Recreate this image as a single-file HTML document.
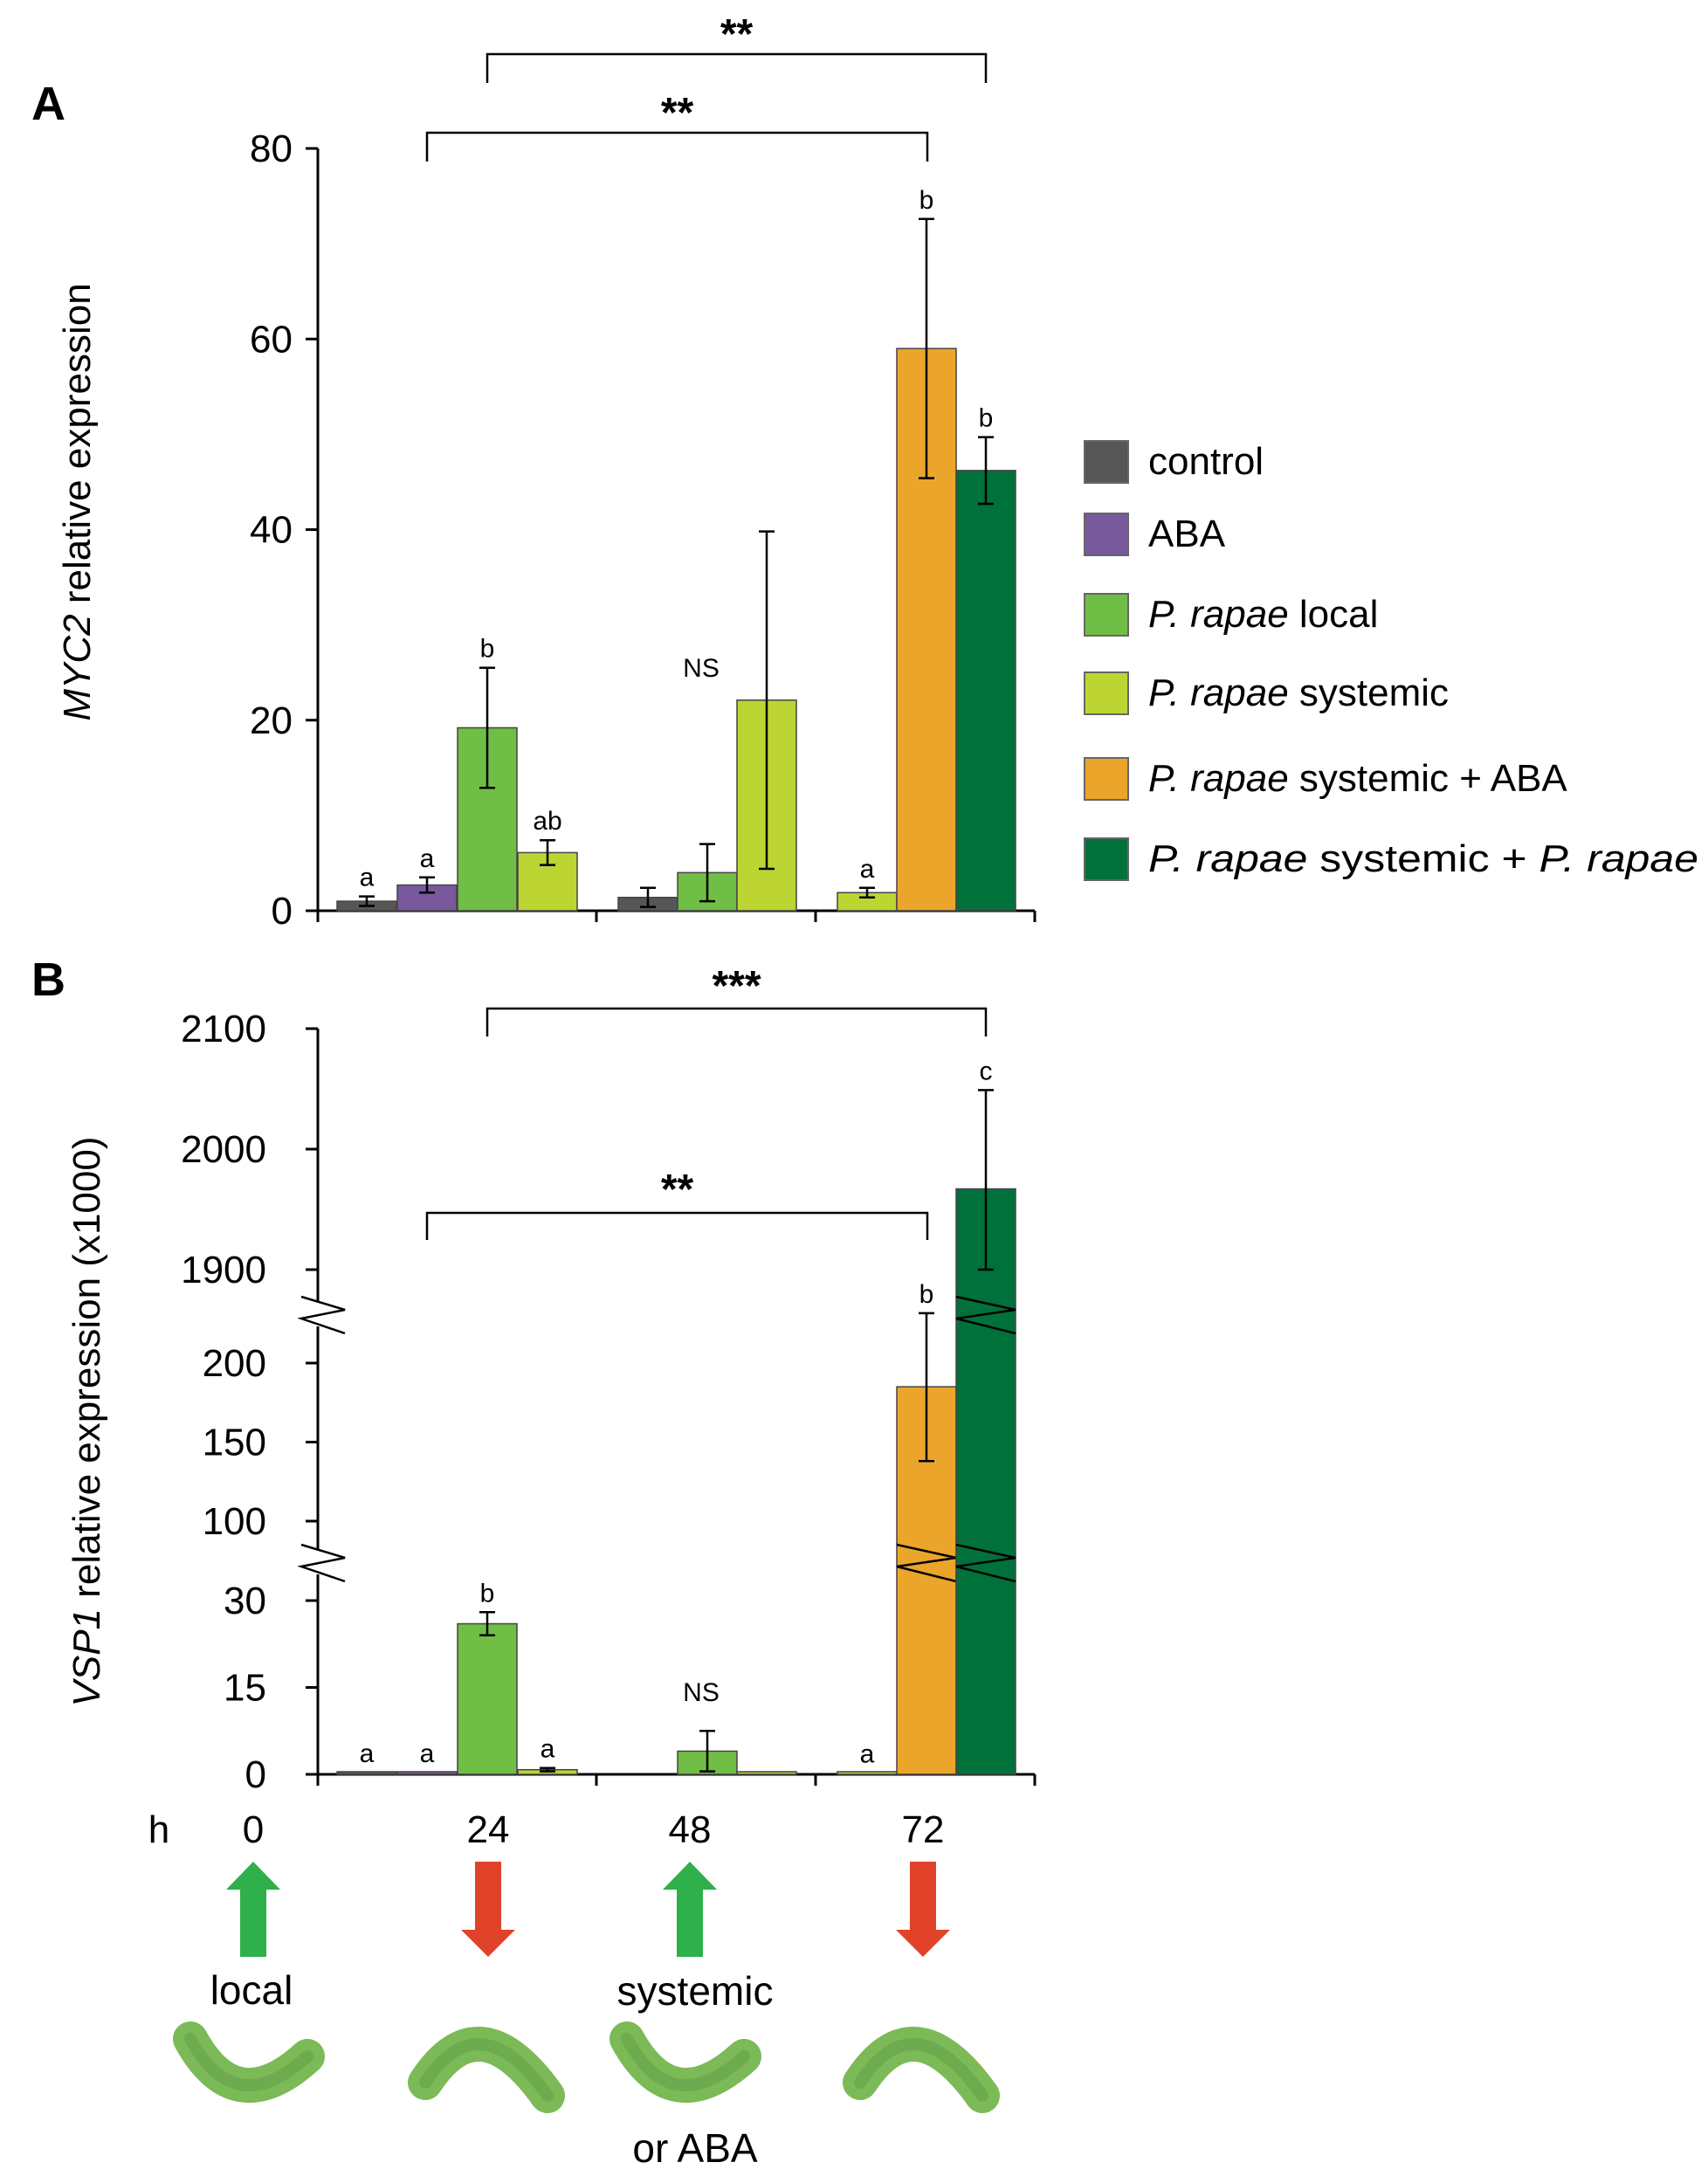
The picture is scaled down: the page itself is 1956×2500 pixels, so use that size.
<!DOCTYPE html>
<html><head><meta charset="utf-8"><style>
html,body{margin:0;padding:0;background:#fff;overflow:hidden;}
svg{display:block;font-family:"Liberation Sans",sans-serif;}
</style></head><body>
<svg id="chart" width="1956" height="2500" viewBox="0 0 1956 2500">
<g id="A"></g>
<g id="B"></g>
<g id="bottom"></g>
</svg>
<script>
const NS="http://www.w3.org/2000/svg";
const series=["control","ABA","P. rapae local","P. rapae systemic","P. rapae systemic + ABA","P. rapae systemic + P. rapae"];
const colors=["#565656","#78599b","#70be45","#bdd532","#eca52b","#00713a"];
const aSeries=[0,1,2,3,0,2,3,3,4,5];
const aValues=[1.0,2.7,19.2,6.1,1.4,4.0,22.1,1.9,59.0,46.2];
const aErrors=[0.5,0.8,6.3,1.3,1.0,3.0,17.7,0.5,13.6,3.5];
const aLetters=["a","a","b","ab","","","","a","b","b"];
const aTicks=[0,20,40,60,80];
const bValues=[0.3,0.3,26,0.8,4.0,0.2,0.2,185,1967];
const bErrors=[0,0,2,0.3,3.5,0,0,47,82];
const bSeries=[0,1,2,3,2,3,3,4,5];
const bLetters=["a","a","b","a","","","a","b","c"];
const bTicks=[0,15,30,100,150,200,1900,2000,2100];
const slotX=[386,455,524,593,708,776,844,959,1027,1095];
const bSlot=[0,1,2,3,5,6,7,8,9];
const BW=68;
function el(p,tag,attrs,text){const e=document.createElementNS(NS,tag);for(const k in attrs)e.setAttribute(k,attrs[k]);if(text!==undefined)e.textContent=text;p.appendChild(e);return e;}
const A=document.getElementById('A'),B=document.getElementById('B'),BT=document.getElementById('bottom');
const yA=v=>1043-v*(1043-170)/80;
el(A,'text',{x:36,y:137,'font-size':54,'font-weight':'bold'},'A');
el(A,'line',{x1:364,y1:170,x2:364,y2:1043,stroke:'#000','stroke-width':3});
el(A,'line',{x1:364,y1:1043,x2:1185,y2:1043,stroke:'#000','stroke-width':3});
[364,683,934,1185].forEach(x=>el(A,'line',{x1:x,y1:1043,x2:x,y2:1056,stroke:'#000','stroke-width':3}));
aTicks.forEach(t=>{el(A,'line',{x1:350,y1:yA(t),x2:364,y2:yA(t),stroke:'#000','stroke-width':3});
 const tx=el(A,'text',{x:335,y:yA(t)+15,'font-size':44,'text-anchor':'end'},t);
 
 });
const ta=el(A,'text',{transform:'translate(103,575) rotate(-90)','font-size':44,'text-anchor':'middle'});

el(ta,'tspan',{'font-style':'italic'},'MYC2');el(ta,'tspan',{},' relative expression');
aValues.forEach((v,i)=>{const x=slotX[i],c=colors[aSeries[i]];
 const r=el(A,'rect',{x:x,y:yA(v),width:BW,height:yA(0)-yA(v),fill:c,stroke:'#444','stroke-width':1.5});
 
 
 const cx=x+BW/2,e=aErrors[i];
 el(A,'line',{x1:cx,y1:yA(v+e),x2:cx,y2:yA(v-e),stroke:'#000','stroke-width':2.5});
 el(A,'line',{x1:cx-9,y1:yA(v+e),x2:cx+9,y2:yA(v+e),stroke:'#000','stroke-width':2.5});
 el(A,'line',{x1:cx-9,y1:yA(v-e),x2:cx+9,y2:yA(v-e),stroke:'#000','stroke-width':2.5});
 if(aLetters[i]){const t=el(A,'text',{x:cx,y:yA(v+e)-12,'font-size':30,'text-anchor':'middle'},aLetters[i]);
 }
});
el(A,'text',{x:803,y:775,'font-size':30,'text-anchor':'middle'},'NS');
function bracket(p,x1,x2,y,yend,label,ly){el(p,'path',{d:`M${x1} ${yend}V${y}H${x2}V${yend}`,fill:'none',stroke:'#000','stroke-width':2.5});
 const t=el(p,'text',{x:(x1+x2)/2,y:ly,'font-size':48,'text-anchor':'middle','font-weight':'bold'},label);
 }
bracket(A,558,1129,62,95,'**',55);
bracket(A,489,1062,152,185,'**',145);
const legY=[527,610,702,792,890,982];
series.forEach((s,i)=>{const g=el(A,'g',{});
 el(g,'rect',{x:1242,y:legY[i]-22,width:50,height:48,fill:colors[i],stroke:'#666','stroke-width':2});
 const t=el(g,'text',{x:1315,y:legY[i]+16,'font-size':44});
 if(s.startsWith('P. rapae')){el(t,'tspan',{'font-style':'italic'},'P. rapae');
  let rest=s.slice(8);
  if(rest.endsWith('P. rapae')){el(t,'tspan',{},rest.slice(0,-8));el(t,'tspan',{'font-style':'italic'},'P. rapae');}
  else el(t,'tspan',{},rest);
  if(i===5){t.setAttribute('textLength',630);t.setAttribute('lengthAdjust','spacingAndGlyphs');}
 } else t.textContent=s;});
function yB(v){if(v<=30)return 2032-v*(2032-1833)/30;
 if(v<=200)return 1742-(v-100)*(1742-1561)/100;
 if(v<1900)return 1561-Math.min(v-200,60)/60*107;
 return 1454-(v-1900)*(1454-1178)/200;}
el(B,'text',{x:36,y:1140,'font-size':54,'font-weight':'bold'},'B');
el(B,'line',{x1:364,y1:1178,x2:364,y2:2032,stroke:'#000','stroke-width':3});
el(B,'line',{x1:350,y1:2032,x2:1185,y2:2032,stroke:'#000','stroke-width':3});
[364,683,934,1185].forEach(x=>el(B,'line',{x1:x,y1:2032,x2:x,y2:2045,stroke:'#000','stroke-width':3}));
bTicks.forEach(t=>{el(B,'line',{x1:350,y1:yB(t),x2:364,y2:yB(t),stroke:'#000','stroke-width':3});
 const tx=el(B,'text',{x:305,y:yB(t)+15,'font-size':44,'text-anchor':'end'},t);
 
 });
[1505,1789].forEach(y=>{el(B,'rect',{x:360,y:y-14,width:8,height:28,fill:'#fff'});
 el(B,'path',{d:`M345 ${y-20}L395 ${y-5}L345 ${y+5}L395 ${y+22}`,fill:'none',stroke:'#000','stroke-width':2.5});});
const tb=el(B,'text',{transform:'translate(114,1628) rotate(-90)','font-size':44,'text-anchor':'middle'});

el(tb,'tspan',{'font-style':'italic'},'VSP1');el(tb,'tspan',{},' relative expression (x1000)');
bValues.forEach((v,i)=>{const x=slotX[bSlot[i]],c=colors[bSeries[i]];
 const h=Math.max(yB(0)-yB(v),3);
 const r=el(B,'rect',{x:x,y:yB(0)-h,width:BW,height:h,fill:c,stroke:'#444','stroke-width':1.5});
 
 
 const cx=x+BW/2,e=bErrors[i];
 if(v>100)[1505,1789].forEach(y=>{if(yB(v)<y-20)el(B,'path',{d:`M${x} ${y-20}L${x+BW} ${y-5}L${x} ${y+5}L${x+BW} ${y+22}`,fill:'none',stroke:'#000','stroke-width':2.5});});
 if(e>0){el(B,'line',{x1:cx,y1:yB(v+e),x2:cx,y2:yB(v-e),stroke:'#000','stroke-width':2.5});
 el(B,'line',{x1:cx-9,y1:yB(v+e),x2:cx+9,y2:yB(v+e),stroke:'#000','stroke-width':2.5});
 el(B,'line',{x1:cx-9,y1:yB(v-e),x2:cx+9,y2:yB(v-e),stroke:'#000','stroke-width':2.5});}
 if(bLetters[i]){const t=el(B,'text',{x:cx,y:(e>0?yB(v+e):yB(v))-12,'font-size':30,'text-anchor':'middle'},bLetters[i]);
 }
});
el(B,'text',{x:803,y:1948,'font-size':30,'text-anchor':'middle'},'NS');
bracket(B,558,1129,1155,1187,'***',1145);
bracket(B,489,1062,1389,1420,'**',1378);
el(BT,'text',{x:182,y:2110,'font-size':44,'text-anchor':'middle'},'h');
const hours=["0","24","48","72"],hx=[290,559,790,1057];
hours.forEach((h,i)=>{const t=el(BT,'text',{x:hx[i],y:2110,'font-size':44,'text-anchor':'middle'},h);
 const up=i%2===0,x=hx[i];
 const p=up?`M${x} 2132L${x+31} 2164H${x+15}V2241H${x-15}V2164H${x-31}Z`:`M${x-15} 2132H${x+15}V2210H${x+31}L${x} 2241L${x-31} 2210H${x-15}Z`;
 const a=el(BT,'path',{d:p,fill:up?'#2eb04a':'#e0432a'});
 const cp=up?`M${x-72} 2335Q${x-20} 2430 ${x+62} 2355`:`M${x-72} 2385Q${x-10} 2290 ${x+68} 2400`;
 const c=el(BT,'path',{d:cp,fill:'none',stroke:'#7cb957','stroke-width':40,'stroke-linecap':'round'});
 el(BT,'path',{d:cp,fill:'none',stroke:'#5e9e45','stroke-width':14,'stroke-linecap':'round','opacity':0.5});
});
el(BT,'text',{x:288,y:2295,'font-size':46,'text-anchor':'middle'},'local');
el(BT,'text',{x:796,y:2296,'font-size':46,'text-anchor':'middle'},'systemic');
el(BT,'text',{x:796,y:2476,'font-size':46,'text-anchor':'middle'},'or ABA');
</script>
</body></html>
